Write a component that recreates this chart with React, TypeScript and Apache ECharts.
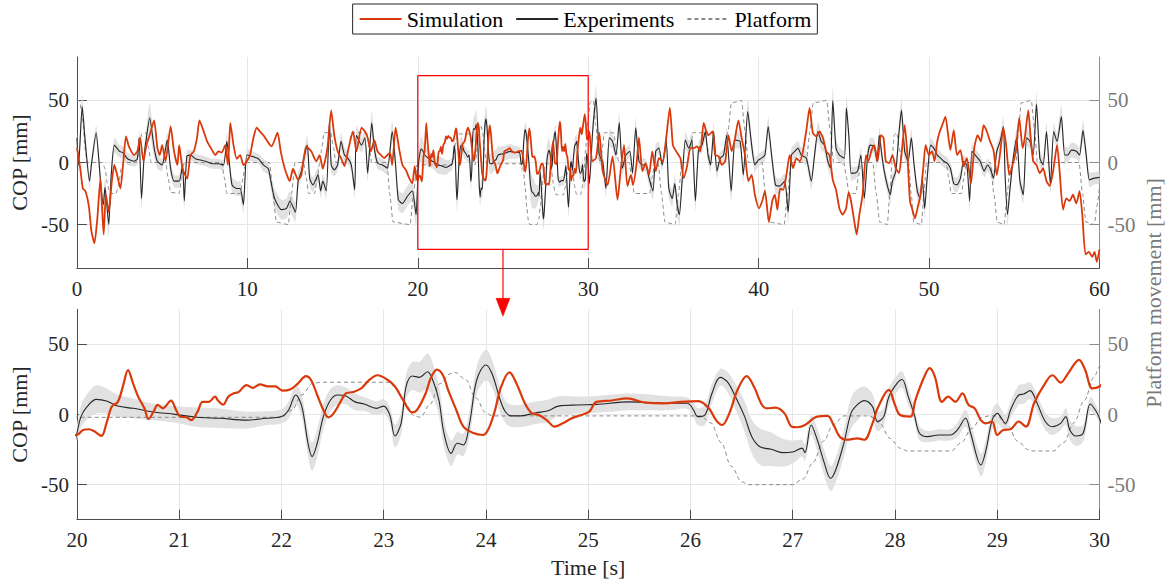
import React, { useEffect, useRef } from "react";
import * as echarts from "echarts";

// ---------- DATA ----------
// Simulation COP [t (s), mm]
const simulation: [number, number][] = [
  [0, 12], [0.2, -5], [0.35, -21], [0.5, -23], [0.7, -35], [0.85, -55], [1.03, -65], [1.2, -45], [1.38, -13], [1.47, -35],
  [1.57, -58], [1.7, -26], [1.87, -40], [2.05, -15], [2.2, -2], [2.36, -10], [2.55, -21], [2.72, 0], [2.88, 21], [3.05, 13],
  [3.36, 6], [3.55, 9], [3.71, 20], [3.9, 1], [4.08, 14], [4.27, 22], [4.53, 34], [4.72, 12], [4.86, 6], [5.0, 14],
  [5.2, 1], [5.5, 29], [5.7, 9], [5.9, -2], [6.0, 14], [6.2, -5], [6.47, -13], [6.66, 6], [6.86, 9], [7.05, 20],
  [7.19, 34], [7.44, 25], [7.64, 17], [7.93, 10], [8.12, 6], [8.31, 9], [8.5, 8], [8.7, 14], [8.86, -2], [8.93, 14],
  [9.0, 32], [9.19, 14], [9.38, 3], [9.58, 6], [9.77, -2], [9.97, 1], [10.16, 6], [10.36, 20], [10.55, 28], [10.74, 25],
  [10.94, 22], [11.23, 16], [11.42, 13], [11.77, 24], [11.96, 9], [12.2, -5], [12.49, -15], [12.68, -5], [12.98, -14], [13.17, -10],
  [13.46, 13], [13.75, 9], [14.05, 1], [14.24, 6], [14.43, -5], [14.63, 6], [14.72, 14], [14.92, 42], [15.1, 22], [15.3, 9],
  [15.5, 3.5], [15.7, -3], [15.9, 9], [16.2, 25], [16.4, 9], [16.7, 28], [16.9, 25], [17.06, 20], [17.25, 9], [17.45, 18],
  [17.64, 9], [17.84, 6], [18.03, 3.5], [18.22, 6], [18.38, 7.5], [18.5, -2], [18.7, 28], [18.9, 11.6], [19.1, -2], [19.3, -6],
  [19.5, -12.6], [19.68, -16.7], [19.82, -3], [19.92, -12],
  [20.0, -14.6], [20.06, -11], [20.12, -10.5], [20.17, -12], [20.24, -15.3], [20.29, -6], [20.34, 5.6], [20.4, 9], [20.45, 20], [20.5, 31.7],
  [20.55, 22], [20.6, 12.7], [20.66, 4.4], [20.7, -3.2], [20.75, 2], [20.79, 6.8], [20.84, 4.4], [20.92, 9.9], [20.97, 3.2], [21.01, -1.5],
  [21.07, -2], [21.12, -4], [21.18, 2], [21.23, 9], [21.29, 9], [21.35, 12.7], [21.38, 10], [21.43, 7], [21.48, 12.7], [21.53, 15],
  [21.58, 16], [21.66, 21], [21.72, 19], [21.79, 21.5], [21.87, 20], [21.94, 20], [22.01, 17], [22.09, 18], [22.16, 22], [22.24, 27.4],
  [22.29, 24.6], [22.35, 13.9], [22.41, 3.2], [22.46, -2], [22.51, 0.8], [22.57, 8], [22.63, 15], [22.7, 16], [22.78, 18.6], [22.85, 24],
  [22.94, 28], [23.04, 24.6], [23.11, 20], [23.19, 10.3], [23.28, 1.5], [23.33, 3.7], [23.41, 15], [23.46, 25.8], [23.52, 32], [23.58, 28],
  [23.63, 17.5], [23.71, 3.2], [23.78, -8.7], [23.87, -13], [23.97, -14.6], [24.02, -11], [24.08, 0.8], [24.15, 20], [24.23, 30], [24.3, 22],
  [24.38, 8], [24.45, 0.8], [24.52, -0.4], [24.6, -4.4], [24.67, -8.7], [24.75, -6.3], [24.84, -2.7], [24.93, -0.4], [25.01, 2], [25.08, 9],
  [25.23, 10], [25.38, 11.5], [25.56, 8.4], [25.75, 8], [25.9, 9], [26.08, 9.6], [26.18, 4.4], [26.25, -4], [26.31, -7.5], [26.38, 0.8],
  [26.46, 17.5], [26.55, 27.4], [26.62, 20], [26.7, 6.8], [26.75, 4.4], [26.83, 4.9], [26.92, 0.8], [26.99, -8.7], [27.05, -9.1], [27.12, -7.5],
  [27.24, -1.5], [27.34, -1], [27.4, -7.5], [27.46, -15.8], [27.53, -18], [27.63, -17], [27.7, -18], [27.78, -6.3], [27.83, 4.4], [27.94, 17.5],
  [28.0, 6.8], [28.05, -0.4], [28.15, -1.5], [28.2, 10.3], [28.28, 25.8], [28.34, 33], [28.39, 27], [28.46, 9], [28.52, 12.7], [28.59, 9],
  [28.66, 15], [28.72, 6.8], [28.78, 4.4], [28.84, -4], [28.89, -6.3], [28.95, -5], [29.0, -14.6], [29.06, -11], [29.13, -10.5], [29.21, -5],
  [29.28, -8.7], [29.36, 8], [29.45, 20], [29.54, 28], [29.62, 22.7], [29.69, 29], [29.8, 39], [29.86, 31.7], [29.93, 18.6], [30.0, 20],
  [30.07, 25], [30.23, 1], [30.46, 3.5], [30.65, 24], [30.85, -7], [31.14, -18], [31.43, 5], [31.72, -30], [31.9, -7], [32.1, 14],
  [32.3, -19], [32.5, -10], [32.63, -18], [32.83, -2], [32.98, 20], [33.18, -7], [33.37, -0.5], [33.57, -10], [33.76, 9], [33.96, -7],
  [34.15, 3.5], [34.38, 1], [34.58, 20], [34.79, 44], [34.97, 14], [35.16, 9], [35.41, 3.5], [35.6, -12.6], [35.8, -3], [35.99, 11.6],
  [36.19, 11.6], [36.38, 13], [36.58, 9], [36.77, 32], [36.91, 26], [37.06, 22], [37.3, 25], [37.45, 6], [37.65, 5], [37.84, -2],
  [38.04, 1], [38.23, 22], [38.42, 9], [38.62, 20], [38.81, 34], [39.0, 20], [39.2, 6], [39.4, -15], [39.59, -10], [39.78, -26],
  [40.02, -37], [40.21, -31], [40.37, -23], [40.6, -48], [40.8, -31], [40.95, -26], [41.1, -38], [41.26, -21], [41.44, -22], [41.63, -10],
  [41.82, 6], [42.02, -4.6], [42.21, 3.5], [42.41, 1], [42.6, 9], [42.8, 26], [42.99, 44], [43.18, 24], [43.38, 21], [43.57, 25],
  [43.77, 20], [43.96, 9], [44.16, 6], [44.35, -14], [44.54, -22], [44.74, -37], [44.93, -42], [45.13, -37], [45.28, -24], [45.42, -31],
  [45.62, -48], [45.75, -58], [45.91, -42], [46.1, -26], [46.3, 6], [46.43, 1], [46.63, 10], [46.78, 14], [46.98, 1], [47.17, 22],
  [47.33, 20], [47.46, 1], [47.66, -0.5], [47.85, 6], [48.05, -4.6], [48.24, -8.6], [48.38, 6], [48.57, 30], [48.73, 6], [48.88, -31],
  [49.02, -38], [49.17, -45], [49.35, -35], [49.5, -26], [49.66, -4.6], [49.8, 14], [49.99, 6], [50.18, 9], [50.32, 1], [50.48, 17],
  [50.63, 25], [50.77, 30], [50.96, 37], [51.12, 22], [51.25, 10], [51.45, 26], [51.64, 6], [51.84, 10], [52.03, -3], [52.22, 3.5],
  [52.46, -17], [52.65, 11.6], [52.85, 22], [53.04, 17], [53.2, 30], [53.39, 25], [53.58, 17], [53.78, 10], [53.97, -10], [54.17, 7.5],
  [54.36, 28], [54.52, 14], [54.71, -10], [54.9, -2], [55.1, 10], [55.29, 36], [55.49, 11.6], [55.62, 20], [55.82, 42], [55.95, 22],
  [56.11, 1], [56.3, -2], [56.5, -8.6], [56.69, -4.6], [56.89, -15], [57.08, -19], [57.28, -7], [57.51, 14], [57.66, -7], [57.86, -38],
  [58.05, -29], [58.25, -31], [58.44, -26], [58.64, -33], [58.83, -23], [58.99, -42], [59.18, -74], [59.38, -72], [59.57, -76], [59.71, -72],
  [59.84, -80], [60, -70],
];

// Experiments COP: [t (s), mean (mm), spread (mm)]
const experiments: [number, number, number][] = [
  [0, 20, 6], [0.1, -2, 6], [0.31, 45, 10], [0.5, 15, 8], [0.74, -15, 6], [0.85, -2, 5], [1.13, 24, 6], [1.3, 0, 6], [1.42, -21, 8], [1.55, -34, 8],
  [1.65, -20, 8], [1.87, -50, 10], [2.0, -13, 8], [2.2, 14, 6], [2.5, 9, 5], [2.7, 8, 5], [2.97, 3, 5], [3.36, 1, 4], [3.55, 3, 5], [3.65, 20, 6],
  [3.79, -29, 8], [3.95, 6, 6], [4.08, 20, 8], [4.27, 36, 12], [4.53, 12, 8], [4.72, 1, 6], [5.0, -2, 5], [5.3, 18, 6], [5.5, -5, 6], [5.7, -15, 5],
  [6.0, -15, 5], [6.2, -2, 6], [6.3, -31, 8], [6.45, 5, 5], [6.66, 6, 4], [6.95, 3, 4], [7.25, 2, 4], [7.54, 1, 4], [7.93, -1, 4], [8.31, -1, 4],
  [8.6, -2, 4], [8.8, 17, 6], [8.9, 6, 6], [9.1, -18, 6], [9.38, -21, 6], [9.58, -21, 6], [9.77, -34, 7], [9.97, 6, 5], [10.26, 5, 4], [10.65, 3, 4],
  [10.94, -2, 5], [11.23, -5, 5], [11.38, -15, 6], [11.6, -29, 8], [12.0, -38, 8], [12.3, -37, 8], [12.5, -31, 8], [12.82, -40, 8], [12.98, -15, 7], [13.17, -7, 6],
  [13.36, 6, 6], [13.52, 14, 8], [13.66, -13, 6], [13.85, -18, 6], [14.15, -10, 6], [14.3, -23, 6], [14.43, -15, 6], [14.63, -23, 6], [14.82, 33, 8], [14.92, -2, 6],
  [15.1, -6, 5], [15.3, -2, 5], [15.5, 17, 7], [15.7, 6, 6], [15.9, 3.5, 5], [16.1, -2, 5], [16.3, -22, 7], [16.4, 22, 8], [16.7, 14, 6], [16.9, 20, 6],
  [17.06, -8.6, 6], [17.3, 32, 10], [17.45, 11.6, 7], [17.64, -0.5, 5], [17.93, -2, 5], [18.22, -4.6, 5], [18.5, 25, 8], [18.7, -2, 6], [18.86, -30, 8], [19.1, -33, 8],
  [19.4, -27, 8], [19.68, -23, 8], [19.9, -42, 10],
  [20.0, -13.4, 6], [20.04, -1.5, 8], [20.1, 5.6, 9], [20.19, 10.8, 10], [20.29, 9.6, 9], [20.4, 6, 8], [20.55, 4.4, 7], [20.73, 2, 6], [20.96, 0.1, 6], [21.18, -2, 7],
  [21.4, -2.7, 7], [21.66, -4, 6], [21.85, -2.7, 5], [22.0, -1.5, 5], [22.07, 3.2, 6], [22.14, 13.9, 7], [22.2, 5.6, 8], [22.26, -20.5, 9], [22.3, -30, 10], [22.35, -20.5, 10],
  [22.41, -1.5, 9], [22.48, 10.3, 8], [22.55, 13.9, 7], [22.63, 13.2, 6], [22.72, 9, 6], [22.81, 7.5, 5], [22.93, 4.4, 5], [23.0, 6, 5], [23.06, -0.4, 6], [23.11, -15.3, 8],
  [23.17, -6.3, 8], [23.22, 20, 9], [23.28, 27.4, 10], [23.35, 26.5, 11], [23.43, 30.5, 13], [23.48, 24.6, 12], [23.54, 10.3, 11], [23.59, -13.4, 10], [23.66, -27.7, 9], [23.72, -20.5, 8],
  [23.78, -21.7, 8], [23.84, -6.3, 9], [23.91, 24.6, 10], [24.0, 35.3, 11], [24.06, 29, 10], [24.14, 10.3, 9], [24.19, 2, 8], [24.25, -1, 8], [24.34, -1, 8], [24.49, 1.3, 8],
  [24.6, 2.5, 8], [24.71, 6, 7], [24.9, 6.8, 6], [25.08, 7.2, 6], [25.41, 9, 6], [25.79, 8, 5], [25.97, 8, 4], [26.03, 3.2, 5], [26.07, -1.5, 6], [26.14, -0.4, 7],
  [26.21, 15, 7], [26.29, 26.5, 6], [26.36, 23.4, 7], [26.44, 12.7, 9], [26.53, -1.5, 11], [26.6, -15.8, 12], [26.68, -23, 13], [26.79, -24.8, 12], [26.9, -27.2, 10], [27.01, -26.5, 8],
  [27.09, -24, 6], [27.12, -27.2, 6], [27.18, -7.5, 7], [27.24, -18, 8], [27.31, -34.8, 9], [27.37, -45.5, 9], [27.42, -39.6, 9], [27.5, -20.5, 10], [27.57, 0.8, 11], [27.63, 6.8, 11],
  [27.7, 9.9, 10], [27.78, 5.6, 9], [27.83, -5, 7], [27.89, -1.5, 6], [27.94, 12.7, 6], [28.02, 22.2, 6], [28.07, 25, 6], [28.13, 12.7, 6], [28.19, -0.4, 5], [28.24, -13.4, 5],
  [28.32, -15.8, 4], [28.43, -14.6, 4], [28.54, -14.6, 4], [28.61, -11, 5], [28.69, -2.7, 6], [28.74, -13.4, 7], [28.84, -36, 8], [28.89, -25.3, 8], [28.95, -4, 7], [29.0, 0.8, 7],
  [29.08, -6.3, 6], [29.13, 3.2, 6], [29.21, 13.9, 7], [29.26, 14.6, 7], [29.32, 17, 6], [29.39, 8, 6], [29.47, -5, 6], [29.54, -8.7, 6], [29.62, -6.3, 5], [29.67, -1.5, 6],
  [29.71, -11, 7], [29.77, -15.3, 7], [29.84, -13.4, 6], [29.91, 7.5, 5], [29.97, 2, 4], [30.0, -2.7, 4],
  [30.07, -17, 6], [30.26, 25, 8], [30.46, 52, 10], [30.65, 6, 7], [30.85, 1, 6], [31.04, -21, 7], [31.24, 20, 7], [31.43, 17, 6], [31.63, 6, 6], [31.82, 32, 8],
  [32.01, -4.6, 6], [32.21, 6, 5], [32.44, 9, 5], [32.6, -8.6, 6], [32.79, 28, 8], [32.98, 1, 5], [33.18, -2, 5], [33.37, -2, 5], [33.57, -12.6, 6], [33.8, -23, 7],
  [33.96, 9, 6], [34.15, 11.6, 5], [34.34, -2, 5], [34.58, 17, 7], [34.73, -21, 7], [34.93, -29, 7], [35.08, -17, 7], [35.22, -34, 8], [35.35, -42, 9], [35.51, -15, 7],
  [35.7, 18, 7], [35.9, 11.6, 6], [36.09, 18, 7], [36.29, -31, 8], [36.48, 11.6, 6], [36.68, 14, 6], [36.87, 25, 7], [37.03, 6, 6], [37.18, -2, 6], [37.36, 25, 7],
  [37.55, -7, 6], [37.75, 3.5, 5], [37.94, 6, 5], [38.13, 22, 7], [38.39, -23, 8], [38.62, 18, 7], [38.91, 17, 6], [39.1, -10, 7], [39.36, 41, 10], [39.59, 14, 7],
  [39.78, -2, 6], [39.98, 2, 5], [40.17, 3.5, 5], [40.37, 6, 5], [40.56, 29, 8], [40.76, 6, 7], [40.99, -18, 7], [41.24, -19, 6], [41.53, -15, 6], [41.73, -40, 9],
  [41.92, 6, 6], [42.12, 9, 6], [42.31, 11.6, 6], [42.5, 6, 6], [42.8, 3.5, 6], [43.09, -15, 7], [43.28, 6, 6], [43.48, 25, 8], [43.67, 17, 7], [43.87, 14, 7],
  [44.06, 1, 6], [44.21, -4.6, 7], [44.35, 50, 11], [44.54, 11.6, 8], [44.74, 6, 6], [45.03, 3.5, 6], [45.15, 44, 10], [45.3, 20, 8], [45.42, -8.6, 6], [45.62, -8.6, 5],
  [45.81, -7, 5], [46.0, 6, 6], [46.2, -29, 8], [46.4, 6, 6], [46.55, 14, 6], [46.78, 13, 6], [46.94, 1, 6], [47.08, 22, 7], [47.23, 6, 6], [47.37, -7, 6],
  [47.56, -19, 6], [47.72, -26, 7], [47.85, -15, 6], [48.05, -7, 6], [48.24, 25, 8], [48.38, 42, 10], [48.57, 9, 7], [48.77, 1, 6], [48.96, 20, 7], [49.12, -2, 6],
  [49.31, -23, 7], [49.47, -29, 7], [49.6, -12.6, 7], [49.74, -37, 8], [49.89, -12.6, 7], [50.09, 14, 6], [50.28, 11.6, 5], [50.48, 6, 5], [50.67, 3.5, 5], [50.86, 1, 5],
  [51.06, -0.5, 5], [51.25, -4.6, 5], [51.45, -17, 6], [51.64, -18, 6], [51.84, -12.6, 6], [52.03, 1, 5], [52.22, -2, 5], [52.38, -31, 8], [52.51, 9, 6], [52.71, 6, 5],
  [53.0, 1, 5], [53.23, -7, 5], [53.43, -2, 5], [53.62, -6, 5], [53.78, -12.6, 6], [53.97, 9, 6], [54.17, 17, 6], [54.36, 29, 8], [54.46, -10, 8], [54.6, -42, 10],
  [54.75, -21, 8], [54.94, 3.5, 6], [55.14, 20, 7], [55.33, -15, 7], [55.53, -26, 7], [55.72, 20, 7], [55.92, 17, 6], [56.11, 6, 6], [56.3, 47, 10], [56.5, 3.5, 7],
  [56.69, -2, 6], [56.89, 25, 7], [57.12, -18, 7], [57.31, 25, 7], [57.51, 17, 6], [57.76, 37, 9], [57.96, 6, 7], [58.15, 6, 6], [58.35, 10, 6], [58.64, 9, 6],
  [58.83, 6, 6], [59.03, 26, 8], [59.22, 6, 7], [59.41, -14, 6], [59.71, -12.6, 5], [60, -12, 5],
];

// Platform movement [t (s), mm]
const platform: [number, number][] = [
  [0, 50], [0.15, 50], [0.3, 40], [0.5, 10], [0.6, 0], [1.5, 0], [1.65, -5], [1.8, -18], [1.95, -25], [2.3, -25],
  [2.45, -18], [2.6, -5], [2.75, 0], [3.5, 0], [3.65, 10], [3.8, 23], [4.05, 24], [4.2, 12], [4.35, 0], [5.2, 0],
  [5.35, -12], [5.5, -24], [6.0, -25], [6.15, -12], [6.3, 0], [8.5, 0], [8.65, -12], [8.8, -25], [9.6, -25], [9.75, -12],
  [9.9, 0], [11.3, 0], [11.5, -25], [11.7, -48], [12.4, -50], [12.6, -25], [12.8, 0], [13.3, 0], [13.45, -12], [13.6, -25],
  [13.95, -25], [14.1, -12], [14.25, 0], [14.35, 10], [14.5, 24], [14.9, 24], [15.05, 12], [15.2, 0], [15.8, 0], [15.95, 12],
  [16.1, 24], [17.0, 24], [17.15, 12], [17.3, 0], [18.2, 0], [18.35, -25], [18.55, -48], [19.55, -50], [19.75, -25], [19.95, -2],
  [20.0, -2], [22.0, -2], [22.1, 3], [22.2, 14], [22.3, 22], [22.38, 23], [23.05, 23], [23.12, 19], [23.2, 9], [23.3, -1],
  [23.36, -2], [23.45, 7], [23.55, 22], [23.65, 29], [23.7, 30], [23.8, 25], [23.9, 12], [24.0, 1], [24.06, -1], [26.1, -1],
  [26.2, -6], [26.3, -20], [26.4, -37], [26.5, -48], [26.57, -50], [27.0, -50], [27.1, -46], [27.2, -34], [27.3, -19], [27.4, -7],
  [27.5, -1], [27.75, -1], [27.85, -6], [27.95, -17], [28.05, -24], [28.12, -26], [28.55, -26], [28.65, -20], [28.75, -10], [28.85, -2],
  [28.92, -1], [29.0, -1], [29.1, -8], [29.2, -19], [29.3, -25], [29.35, -26], [29.55, -26], [29.65, -20], [29.75, -6], [29.85, 10],
  [29.95, 27], [30.0, 34], [30.1, 48], [30.3, 50], [30.45, 30], [30.6, 5], [30.7, 0], [30.8, 8], [30.95, 24], [31.5, 24],
  [31.65, 10], [31.8, 0], [32.4, 0], [32.55, -12], [32.7, -25], [33.6, -25], [33.75, -12], [33.9, 0], [34.1, 0], [34.3, -25],
  [34.5, -48], [35.1, -50], [35.3, -25], [35.5, 0], [35.85, 0], [36.0, 12], [36.15, 24], [36.85, 24], [37.0, 12], [37.15, 0],
  [38.0, 0], [38.2, 25], [38.4, 48], [39.0, 50], [39.2, 25], [39.4, 0], [40.2, 0], [40.4, -25], [40.6, -48], [41.5, -50],
  [41.7, -25], [41.9, 0], [42.8, 0], [43.0, 25], [43.2, 48], [44.0, 50], [44.2, 25], [44.4, 0], [45.0, 0], [45.15, -12],
  [45.3, -25], [45.7, -25], [45.85, -12], [46.0, 0], [46.7, 0], [46.9, -25], [47.1, -48], [47.55, -50], [47.7, -25], [47.85, 5],
  [47.95, 22], [48.1, 24], [48.25, 12], [48.4, 0], [48.8, 0], [48.95, -25], [49.1, -48], [49.55, -50], [49.7, -25], [49.85, 0],
  [51.0, 0], [51.15, -12], [51.3, -25], [51.9, -25], [52.05, -12], [52.2, 0], [53.6, 0], [53.8, -25], [54.0, -48], [54.4, -50],
  [54.6, -25], [54.75, 0], [55.1, 0], [55.25, 25], [55.4, 48], [56.0, 50], [56.2, 25], [56.35, 0], [58.8, 0], [59.0, -25],
  [59.2, -48], [59.7, -50], [59.85, -35], [60, -20],
];

// Zoom window drawn on the top panel: [t, mm]
const zoomWindow: [number, number][] = [[20, -70], [30, -70], [30, 70], [20, 70], [20, -70]];
const zoomCenterT = 25;
const yTickValues = [-50, 0, 50];
const topRange = { xMin: 0, xMax: 60, xStep: 10, yMin: -85, yMax: 85 };
const bottomRange = { xMin: 20, xMax: 30, xStep: 1, yMin: -75, yMax: 75 };

// ---------- STYLE ----------
const FONT = "'Liberation Serif', 'DejaVu Serif', serif";
const RED = "#da3a0b";
const BLACK = "#262626";
const PLAT = "#8a8a8a";
const BAND = "#e1e1e1";
const GRIDC = "#e6e6e6";

export default function App() {
  const ref = useRef<HTMLDivElement>(null);

  useEffect(() => {
    const chart = echarts.init(ref.current!, null, { renderer: "svg" });

    const expLine = experiments.map(([t, v]) => [t, v]);

    const xAxisBase = (gridIndex: number, r: typeof topRange, extra: any = {}) => ({
      type: "value",
      gridIndex,
      min: r.xMin,
      max: r.xMax,
      interval: r.xStep,
      axisLine: { show: true, onZero: false, lineStyle: { color: "#4d4d4d", width: 1 } },
      axisTick: { show: true, inside: true, length: 10, lineStyle: { color: "#4d4d4d" } },
      axisLabel: { margin: 10, fontFamily: FONT, fontSize: 21, color: BLACK },
      splitLine: { show: true, lineStyle: { color: GRIDC, width: 1 } },
      ...extra,
    });

    const yLeft = (gridIndex: number, r: typeof topRange) => ({
      type: "value",
      gridIndex,
      position: "left",
      min: r.yMin,
      max: r.yMax,
      name: "COP [mm]",
      nameLocation: "middle",
      nameGap: 43,
      nameRotate: 90,
      nameTextStyle: { fontFamily: FONT, fontSize: 22, color: BLACK },
      axisLine: { show: true, onZero: false, lineStyle: { color: "#4d4d4d", width: 1 } },
      axisTick: { show: true, inside: true, length: 10, customValues: yTickValues, lineStyle: { color: "#4d4d4d" } },
      axisLabel: { margin: 8, fontFamily: FONT, fontSize: 21, color: BLACK, customValues: yTickValues },
      splitLine: { show: true, lineStyle: { color: GRIDC, width: 1 } },
    });

    const yRight = (gridIndex: number, r: typeof topRange) => ({
      type: "value",
      gridIndex,
      position: "right",
      min: r.yMin,
      max: r.yMax,
      axisLine: { show: true, onZero: false, lineStyle: { color: "#8c8c8c", width: 1 } },
      axisTick: { show: true, inside: true, length: 10, customValues: yTickValues, lineStyle: { color: "#8c8c8c" } },
      axisLabel: { margin: 8, fontFamily: FONT, fontSize: 21, color: "#7a7a7a", customValues: yTickValues },
      splitLine: { show: false },
    });

    const bandSeries = (xi: number, yi: number, smooth: number, r: typeof topRange) => ({
      type: "custom",
      xAxisIndex: xi,
      yAxisIndex: yi,
      data: [[r.xMin, 0]],
      silent: true,
      z: 1,
      renderItem: (params: any, api: any) => {
        const pts = experiments.filter(([t]) => t >= r.xMin - 0.3 && t <= r.xMax + 0.3);
        const upper = pts.map(([t, v, s]) => api.coord([t, v + s]));
        const lower = pts.map(([t, v, s]) => api.coord([t, v - s])).reverse();
        const cs = params.coordSys;
        return {
          type: "group",
          children: [
            {
              type: "polygon",
              shape: { points: upper.concat(lower), smooth },
              style: { fill: BAND, stroke: "none" },
            },
          ],
          clipPath: { type: "rect", shape: { x: cs.x, y: cs.y, width: cs.width, height: cs.height } },
        };
      },
    });

    const panelSeries = (xi: number, yl: number, yr: number, smooth: number, redW: number, r: typeof topRange) => [
      bandSeries(xi, yl, smooth, r),
      {
        type: "line", name: "Platform", xAxisIndex: xi, yAxisIndex: yr, data: platform,
        showSymbol: false, symbol: "none", smooth, smoothMonotone: "x",
        lineStyle: { color: PLAT, width: 1, type: [4, 3] }, itemStyle: { color: PLAT },
      },
      {
        type: "line", name: "Experiments", xAxisIndex: xi, yAxisIndex: yl, data: expLine,
        showSymbol: false, symbol: "none", smooth,
        lineStyle: { color: BLACK, width: 1.1 }, itemStyle: { color: BLACK },
      },
      {
        type: "line", name: "Simulation", xAxisIndex: xi, yAxisIndex: yl, data: simulation,
        showSymbol: false, symbol: "none", smooth,
        lineStyle: { color: RED, width: redW }, itemStyle: { color: RED },
      },
    ];

    const option: any = {
      animation: false,
      backgroundColor: "#ffffff",
      legend: {
        data: ["Simulation", "Experiments", "Platform"],
        left: "center",
        top: 4,
        padding: [4, 6],
        itemGap: 12,
        itemTextGap: 3,
        itemWidth: 42,
        itemHeight: 14,
        itemStyle: { opacity: 0, borderWidth: 0 },
        borderColor: "#262626",
        borderWidth: 1,
        backgroundColor: "#ffffff",
        textStyle: { fontFamily: FONT, fontSize: 22, color: "#000000" },
        selectedMode: false,
      },
      grid: [
        { left: 70, top: 57, width: 1029.5, height: 211, containLabel: false },
        { left: 70, top: 309.3, width: 1029.5, height: 210.4, containLabel: false },
      ],
      xAxis: [
        xAxisBase(0, topRange),
        xAxisBase(1, bottomRange, {
          name: "Time [s]",
          nameLocation: "middle",
          nameGap: 37,
          nameTextStyle: { fontFamily: FONT, fontSize: 22, color: BLACK },
        }),
      ],
      yAxis: [yLeft(0, topRange), yRight(0, topRange), yLeft(1, bottomRange), yRight(1, bottomRange)],
      series: [
        ...panelSeries(0, 0, 1, 0.2, 1.8, topRange),
        {
          type: "line", name: "zoom-window", xAxisIndex: 0, yAxisIndex: 0, data: zoomWindow,
          showSymbol: false, symbol: "none", lineStyle: { color: "#ff0000", width: 1.2 }, silent: true, z: 5,
        },
        ...panelSeries(1, 2, 3, 0.35, 2.2, bottomRange),
      ],
    };

    chart.setOption(option);

    const pBox = chart.convertToPixel({ xAxisIndex: 0, yAxisIndex: 0 }, [zoomCenterT, zoomWindow[0][1]]) as number[];
    const yBottomTop = (chart.convertToPixel({ xAxisIndex: 1, yAxisIndex: 2 }, [bottomRange.xMin, bottomRange.yMax]) as number[])[1];
    const ax = pBox[0];
    const tipY = yBottomTop + 7;
    const headH = 18;
    const headW = 14;

    chart.setOption({
      graphic: [
        {
          type: "line",
          shape: { x1: ax, y1: pBox[1], x2: ax, y2: tipY - headH + 2 },
          style: { stroke: "#ff0000", lineWidth: 1.2 },
          z: 100,
        },
        {
          type: "polygon",
          shape: { points: [[ax - headW / 2, tipY - headH], [ax + headW / 2, tipY - headH], [ax, tipY]] },
          style: { fill: "#ff0000", stroke: "#ff0000", lineWidth: 0.5 },
          z: 100,
        },
        {
          type: "text",
          x: 1153,
          y: 293,
          rotation: Math.PI / 2,
          style: {
            text: "Platform movement [mm]",
            fontFamily: FONT,
            fontSize: 22,
            fill: "#7a7a7a",
            align: "center",
            verticalAlign: "middle",
          },
          z: 100,
        },
      ],
    });

    return () => chart.dispose();
  }, []);

  return (
    <div
      ref={ref}
      style={{ position: "absolute", left: 0, top: 0, width: 1170, height: 584, background: "#fff" }}
    />
  );
}
